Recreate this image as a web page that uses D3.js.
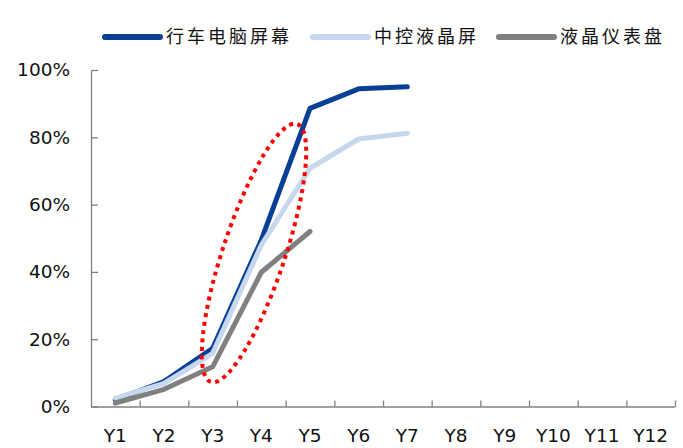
<!DOCTYPE html>
<html><head><meta charset="utf-8">
<script src="https://cdn.jsdelivr.net/npm/d3@7"></script>
<style>
body{margin:0;background:#fff;}
svg{display:block;}
</style></head>
<body><svg id="c" width="683" height="448"></svg>
<script>
const categories = ["Y1","Y2","Y3","Y4","Y5","Y6","Y7","Y8","Y9","Y10","Y11","Y12"];
const seriesNames = ["行车电脑屏幕","中控液晶屏","液晶仪表盘"];
const seriesColors = ["#0a3f96","#c6d7ee","#808080"];
const tripComputer = [0.02, 0.074, 0.173, 0.495, 0.886, 0.944, 0.95];
const centerLCD = [0.025, 0.069, 0.158, 0.48, 0.708, 0.795, 0.812];
const clusterLCD = [0.01, 0.051, 0.118, 0.399, 0.52];
const yTicks = [0, 0.2, 0.4, 0.6, 0.8, 1.0];
const seriesValues = [tripComputer, centerLCD, clusterLCD];

(function () {
const svg = d3.select("#c");
const mL = 91, mR = 675, mT = 70, mB = 406.5;
const x = d3.scaleBand().domain(categories).range([mL, mR]).padding(0);
const xEdge = d3.scaleLinear().domain([0, categories.length]).range([mL, mR]);
const y = d3.scaleLinear().domain([0, 1]).range([mB, mT]);

const font = "Tahoma, 'DejaVu Sans', Verdana, sans-serif";

// Y axis
const ya = svg.append("g").attr("transform", `translate(${mL},0)`)
  .call(d3.axisLeft(y).tickValues(yTicks).tickFormat(d3.format(".0%"))
    .tickSizeInner(-7).tickSizeOuter(0).tickPadding(21));
ya.select(".domain").attr("stroke", "#808080").attr("stroke-width", 1.3);
ya.selectAll(".tick line").attr("stroke", "#808080").attr("stroke-width", 1.3);
ya.selectAll(".tick text").attr("font-family", font).attr("font-size", 18.5).attr("fill", "#111");

// X axis: boundary ticks
const xe = svg.append("g").attr("transform", `translate(0,${mB})`)
  .call(d3.axisBottom(xEdge).tickValues(d3.range(1, categories.length + 1)).tickFormat("")
    .tickSizeInner(-6).tickSizeOuter(0));
xe.select(".domain").attr("stroke", "#808080").attr("stroke-width", 1.3);
xe.selectAll(".tick line").attr("stroke", "#808080").attr("stroke-width", 1.3);
// X labels
const xl = svg.append("g").attr("transform", `translate(0,${mB})`)
  .call(d3.axisBottom(x).tickSize(0).tickPadding(22));
xl.select(".domain").remove();
xl.selectAll(".tick text").attr("font-family", font).attr("font-size", 18.5).attr("fill", "#111");

// Lines
const line = d3.line().x((d, i) => x(categories[i]) + x.bandwidth() / 2).y(d => y(d));
seriesValues.forEach((vals, k) => {
  svg.append("path").datum(vals).attr("d", line)
    .attr("fill", "none").attr("stroke", seriesColors[k]).attr("stroke-width", 5)
    .attr("stroke-linecap", "round").attr("stroke-linejoin", "round");
});

// Red dotted ellipse annotation
svg.append("ellipse")
  .attr("cx", 0).attr("cy", 0).attr("rx", 31).attr("ry", 136)
  .attr("transform", "translate(254,253) rotate(18.5)")
  .attr("fill", "none").attr("stroke", "#ff0000").attr("stroke-width", 4)
  .attr("stroke-dasharray", "4,4.5");

// Legend
const legendX = [105, 313, 499];
const lg = svg.append("g");
seriesNames.forEach((n, k) => {
  lg.append("line").attr("x1", legendX[k]).attr("x2", legendX[k] + 55)
    .attr("y1", 37).attr("y2", 37).attr("stroke", seriesColors[k]).attr("stroke-width", 6)
    .attr("stroke-linecap", "round");
  lg.append("text").attr("x", legendX[k] + 61).attr("y", 37).attr("dy", "0.36em")
    .attr("font-family", "'Noto Sans CJK SC', sans-serif").attr("font-size", 18)
    .attr("letter-spacing", 3).attr("fill", "#111").text(n);
});
})();
</script></body></html>
